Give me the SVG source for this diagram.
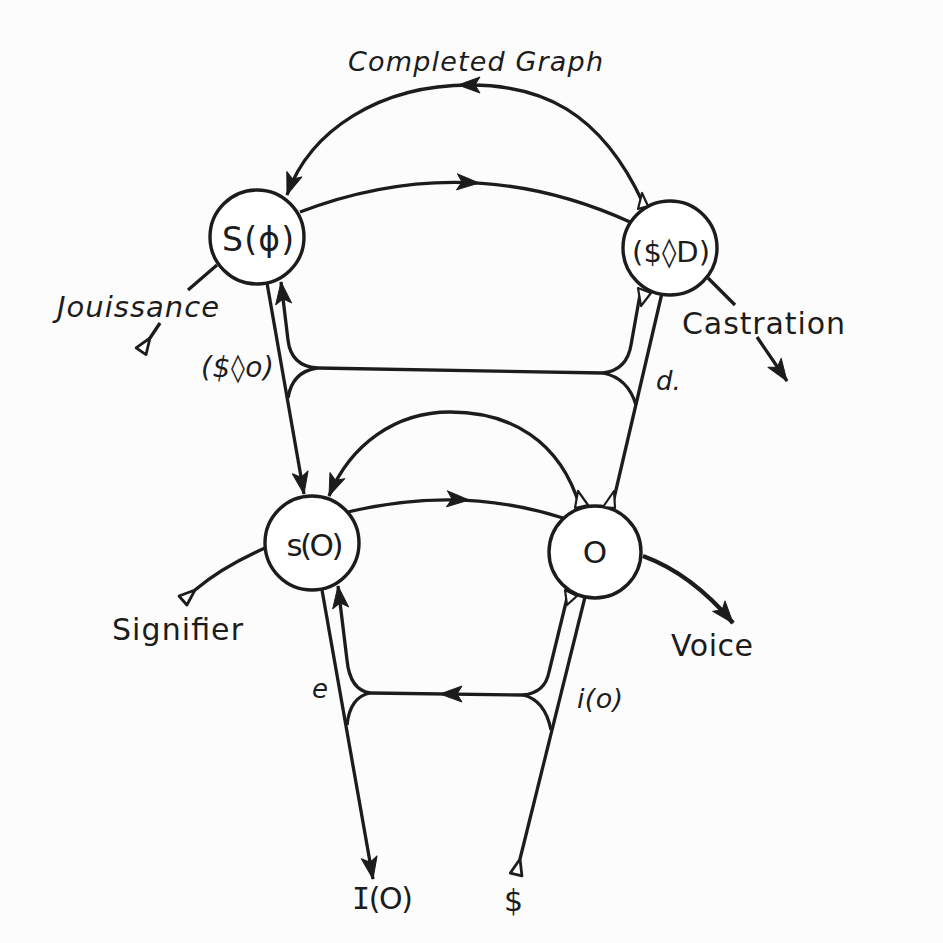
<svg xmlns="http://www.w3.org/2000/svg" xmlns:xlink="http://www.w3.org/1999/xlink" width="943" height="943" viewBox="0 0 943 943">
<style>
.ln{fill:none;stroke:#1c1c1c;stroke-width:3.3;stroke-linejoin:round}
.bold{stroke-width:4.4}
.wd{fill:#fff;stroke:#1c1c1c;stroke-width:2.2;stroke-linejoin:round}
.nd{fill:#fff;stroke:#1c1c1c;stroke-width:3.4}
.t{font-family:"DejaVu Sans","Liberation Sans",sans-serif;fill:#1c1c1c}
.it{font-style:italic}
.ah{fill:#1c1c1c;stroke:#1c1c1c;stroke-width:1;stroke-linejoin:round}
.tri{fill:#fff;stroke:#1c1c1c;stroke-width:2.8;stroke-linejoin:round}
</style>
<defs>
<path id="ah" d="M0,0 L-22,-8 L-17,0 L-22,8 Z"/>
<path id="tr" d="M0,0 L16,-6 L16,6 Z"/>
<marker id="arr" viewBox="-25 -10 27 20" refX="0" refY="0" markerWidth="27" markerHeight="20" orient="auto" markerUnits="userSpaceOnUse">
<use xlink:href="#ah" href="#ah" class="ah"/>
</marker>
</defs>
<rect width="943" height="943" fill="#fcfcfc"/>

<g id="connectors">
<!-- upper level -->
<path class="ln" d="M643,203 C600,110 540,85 470,85 C380,85 310,130 287,195" marker-end="url(#arr)"/>
<use xlink:href="#ah" href="#ah" class="ah" transform="translate(458,85) rotate(180)"/>
<path class="ln" d="M300,212 Q467,148 630,222"/>
<use xlink:href="#ah" href="#ah" class="ah" transform="translate(479,183) rotate(3)"/>
<path class="ln" d="M267,283 L304,494" marker-end="url(#arr)"/>
<path class="ln" d="M603,373 L317,368"/>
<path class="ln" d="M317,368 Q291,366 288,340 L281,282" marker-end="url(#arr)"/>
<path class="ln" d="M317,368 Q292,372 288,398"/>
<path class="ln" d="M641,289 L631,345 Q627,370 603,373"/>
<path class="ln" d="M603,373 Q628,378 636,405"/>
<path class="ln" d="M662,293 L612,507"/>
<!-- jouissance -->
<path class="ln" d="M217,265 L188,290"/>
<path class="ln" d="M160,323 L150,338"/>
<use xlink:href="#tr" href="#tr" class="tri" transform="translate(150,338) rotate(124)"/>
<!-- castration -->
<path class="ln" d="M708,278 L735,305"/>
<path class="ln" d="M757,337 L787,381" marker-end="url(#arr)"/>
<!-- lower level -->
<path class="ln" d="M580,507 C560,440 510,412 450,412 C395,412 350,445 329,496" marker-end="url(#arr)"/>
<path class="ln" d="M348,512 Q460,485 563,518"/>
<use xlink:href="#ah" href="#ah" class="ah" transform="translate(469,500) rotate(3)"/>
<!-- signifier -->
<path class="ln" d="M265,548 Q222,567 195,590"/>
<use xlink:href="#tr" href="#tr" class="tri" transform="translate(195,590) rotate(139)"/>
<!-- voice -->
<path class="ln bold" d="M643,556 Q692,574 733,623" marker-end="url(#arr)"/>
<!-- lower retroversion -->
<path class="ln" d="M322,590 L373,879" marker-end="url(#arr)"/>
<path class="ln" d="M370,693 Q350,690 347,660 L338,586" marker-end="url(#arr)"/>
<path class="ln" d="M370,693 Q350,697 347,725"/>
<path class="ln" d="M523,695 L370,693"/>
<use xlink:href="#ah" href="#ah" class="ah" transform="translate(440,694) rotate(180)"/>
<path class="ln" d="M523,695 Q545,693 549,672 L569,590"/>
<path class="ln" d="M523,695 Q545,700 551,730"/>
<path class="ln" d="M585,597 L520,859"/>
<use xlink:href="#tr" href="#tr" class="tri" transform="translate(520,859) rotate(104)"/>
</g>

<g id="node-SPhi">
<circle class="nd" cx="257" cy="237" r="47"/>
<text class="t" x="258" y="251" font-size="33" text-anchor="middle" textLength="72">S(ϕ)</text>
</g>
<g id="node-SD">
<circle class="nd" cx="670" cy="248" r="47"/>
<text class="t" x="671" y="262" font-size="29" text-anchor="middle" textLength="78">($◊D)</text>
</g>
<g id="node-sO">
<circle class="nd" cx="312" cy="543" r="47"/>
<text class="t" x="315" y="556" font-size="31" text-anchor="middle" textLength="57">s(O)</text>
</g>
<g id="node-O">
<circle class="nd" cx="595" cy="552" r="46"/>
<text class="t" x="595" y="563" font-size="31" text-anchor="middle">O</text>
</g>

<g id="wedges">
<path class="wd" d="M642,193 L638,209 L648,206 Z"/>
<path class="wd" d="M638,288 L651,293 L641,306 Z"/>
<path class="wd" d="M578,491 L575,508 L588,505 Z"/>
<path class="wd" d="M614,491 L603,507 L615,508 Z"/>
<path class="wd" d="M565,590 L577,596 L567,605 Z"/>
</g>

<g id="labels">
<text class="t it" x="348" y="71" font-size="27" textLength="255">Completed Graph</text>
<text class="t it" x="57" y="317" font-size="29" textLength="162">Jouissance</text>
<text class="t it" x="201" y="377" font-size="28" textLength="73">($◊o)</text>
<text class="t" x="682" y="334" font-size="30" textLength="163">Castration</text>
<text class="t it" x="656" y="390" font-size="26">d.</text>
<text class="t" x="112" y="640" font-size="30" textLength="131">Signifier</text>
<text class="t" x="671" y="656" font-size="30" textLength="82">Voice</text>
<text class="t it" x="312" y="698" font-size="26">e</text>
<text class="t it" x="577" y="708" font-size="27" textLength="46">i(o)</text>
<text class="t" x="352" y="909" font-size="30" textLength="61"><tspan font-family="DejaVu Sans Mono, Liberation Mono, monospace">I</tspan>(O)</text>
<text class="t" x="504" y="911" font-size="30">$</text>
</g>
</svg>
